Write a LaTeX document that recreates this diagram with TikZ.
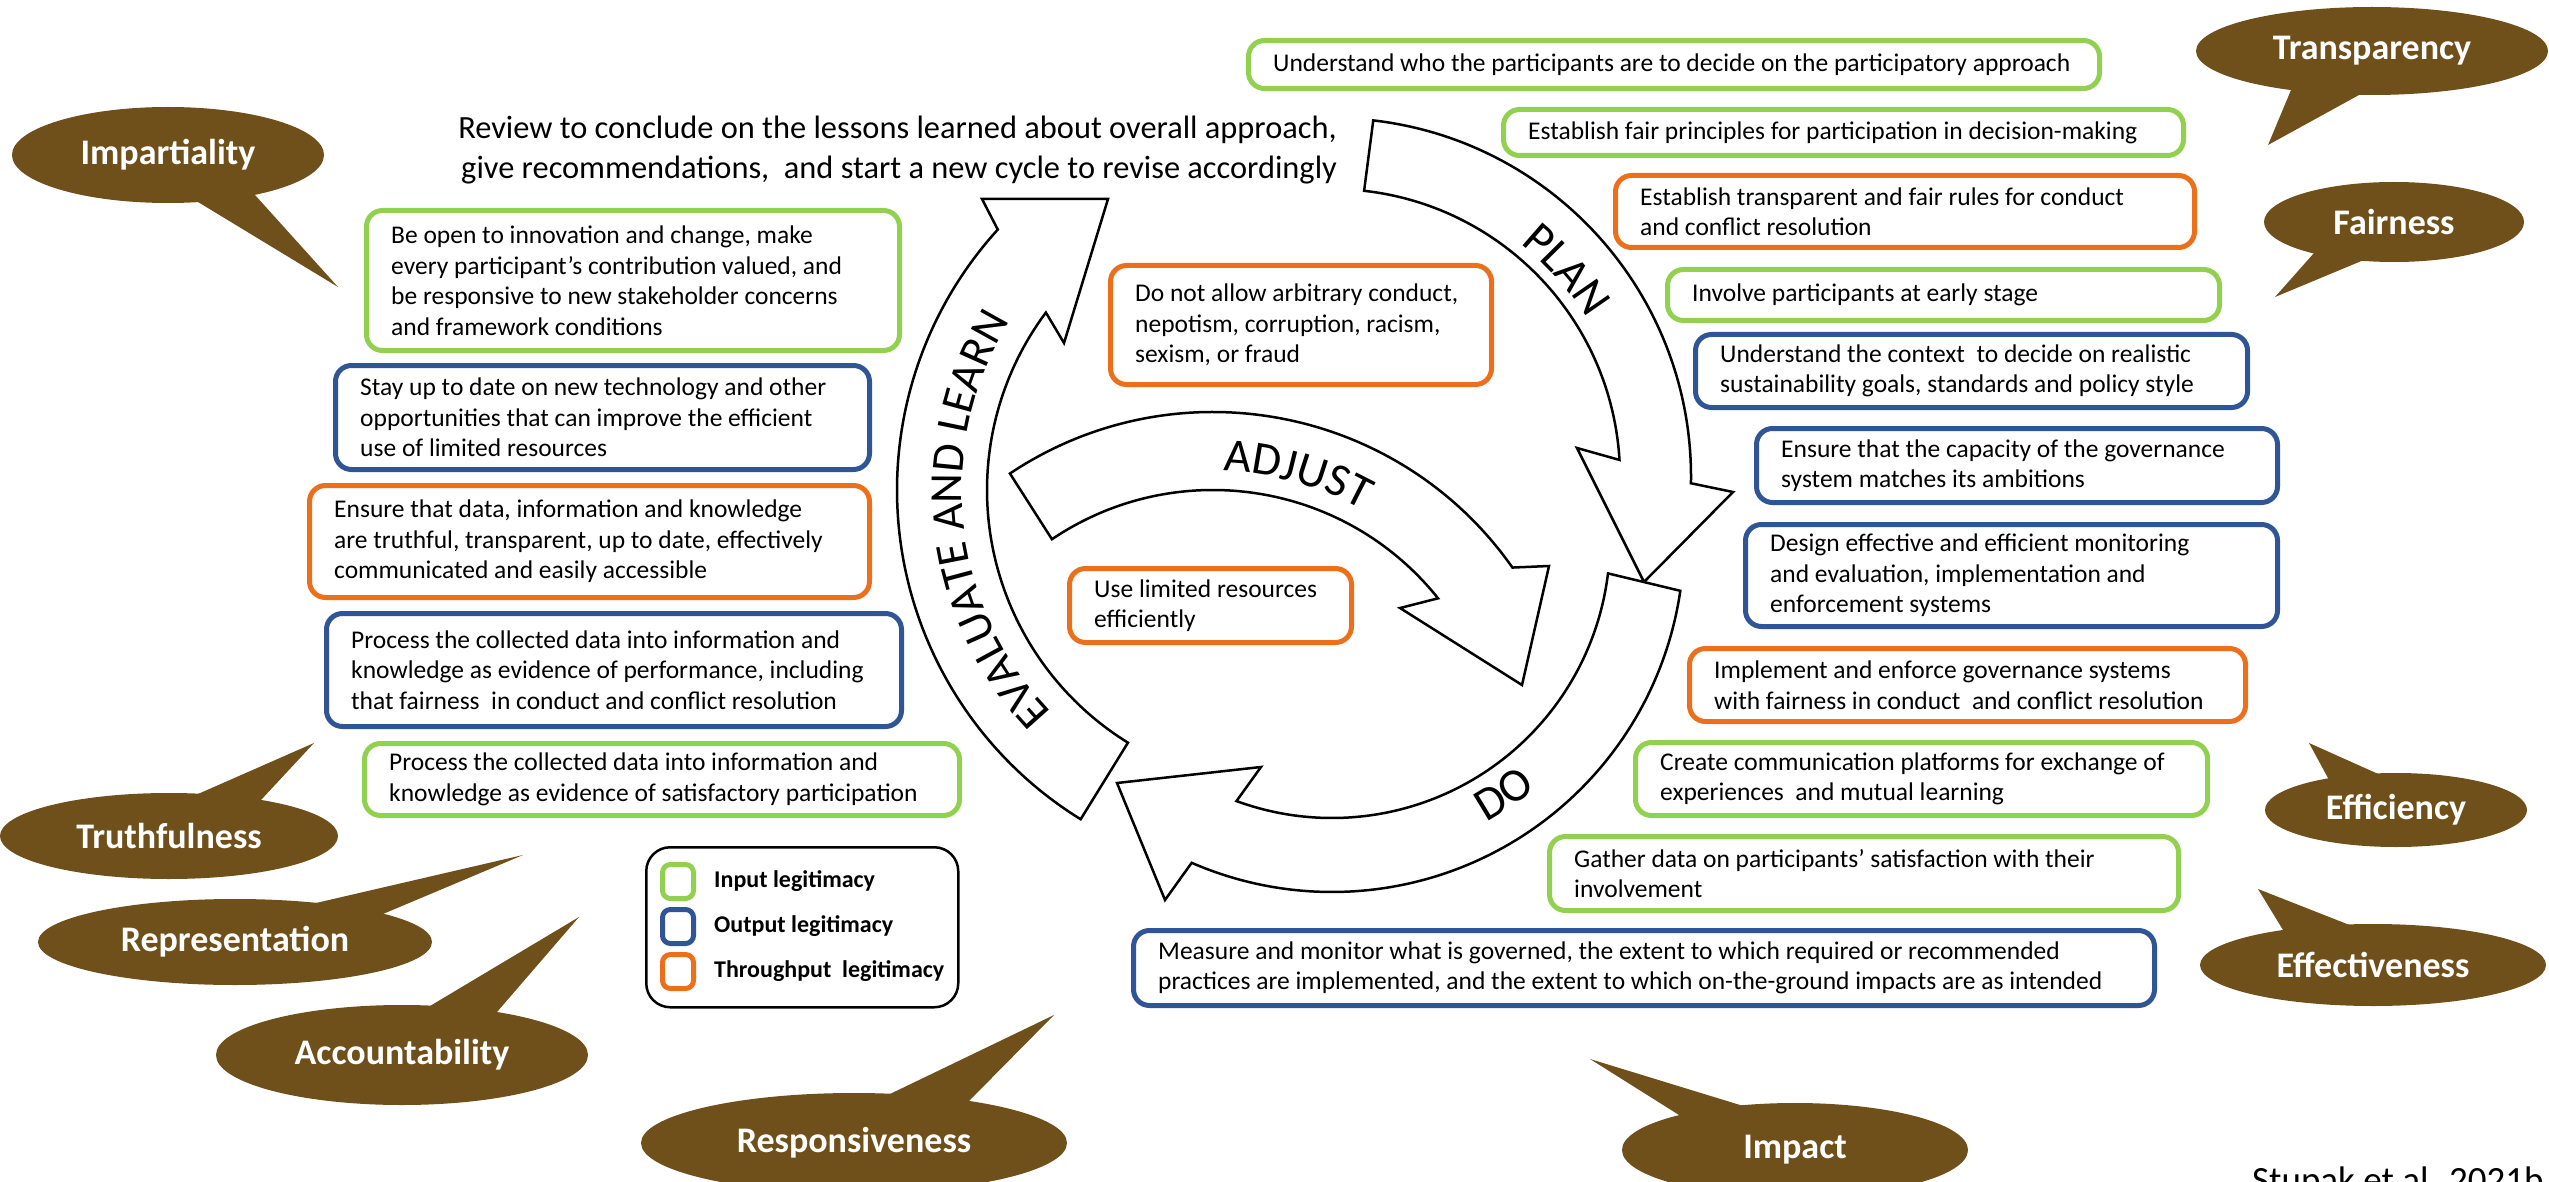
\documentclass[tikz,border=0pt]{standalone}
\usepackage{fontspec}
\setmainfont{Carlito}
\usetikzlibrary{calc,decorations.text,shapes.geometric}
\definecolor{ingreen}{RGB}{146,208,80}
\definecolor{outblue}{RGB}{47,85,151}
\definecolor{throrange}{RGB}{236,112,28}
\definecolor{bubbrown}{RGB}{112,80,26}
\newcommand\boxfont{\fontsize{25.5}{30.5}\selectfont}
\newcommand\bubfont{\fontsize{36}{40}\selectfont\bfseries}
\newcommand\arrfont{\fontsize{47}{47}\selectfont}
\newcommand\evfont{\fontsize{46}{46}\selectfont}
\newcommand\legfont{\fontsize{24}{28}\selectfont\bfseries}
\newcommand\headfont{\fontsize{32.4}{39.5}\selectfont}
\newcommand\govbox[7]{%
  \node[gbox, draw=#2, minimum width=#5pt, minimum height=#6pt] (#1) at (#3,#4) {};
  \node[gtext] (#1t) at ([xshift=27pt]#1.west) {#7};}
\newcommand\bubble[8]{%
  \fill[bubbrown] #7 -- ($#7!1.15!#5$) -- ($#7!1.15!#6$) -- cycle;
  \node[bub, minimum width=#3pt, minimum height=#4pt] (#1) at #2 {#8};}
\begin{document}
\begin{tikzpicture}[x=1pt, y=-1pt,
  gbox/.style={draw, line width=5pt, rounded corners=16pt, fill=white, anchor=north west, inner sep=0pt},
  gtext/.style={anchor=west, align=left, inner sep=0pt, font=\boxfont},
  bub/.style={ellipse, fill=bubbrown, inner sep=0pt, outer sep=0pt, text=white, font=\bubfont},
  cyc/.style={draw=black, fill=white, line width=2.5pt, line join=miter, miter limit=10},
  arrtext/.style={decorate, decoration={text along path, text align=center, text={|\arrfont|#1}}},
  evtext/.style={decorate, decoration={text along path, text align=center, text={|\evfont|#1}}},
  legsq/.style={line width=5pt, rounded corners=8pt, anchor=north west, minimum width=31pt, minimum height=34pt, inner sep=0pt},
  legtxt/.style={anchor=west, font=\legfont, inner sep=0pt}
]
\useasboundingbox (0,0) rectangle (2549,1182);
\clip (0,0) rectangle (2549,1182);

% ---- cycle arrows
\coordinate (pc) at (1332,477);
\coordinate (ec) at (1284,490);
\coordinate (ac) at (1213,778);
\coordinate (dc) at (1332,540);

\draw[cyc] ($(ec)+(121.7:387)$) arc[start angle=121.7, end angle=222.3, radius=387]
  -- (982,199) -- (1108,199) -- (1064,343)
  -- ($(ec)+(216.7:297)$) arc[start angle=216.7, end angle=121.7, radius=297] -- cycle;
\draw[cyc] ($(pc)+(-83.4:359)$) arc[start angle=-83.4, end angle=1, radius=359]
  -- (1733,492) -- (1644,582) -- (1577,448)
  -- ($(pc)+(-3.4:288)$) arc[start angle=-3.4, end angle=-83.6, radius=288] -- cycle;
\draw[cyc] ($(dc)+(8.3:352)$) arc[start angle=8.3, end angle=113.5, radius=352]
  -- (1165,900) -- (1117,783) -- (1261,767)
  -- ($(dc)+(110.1:278)$) arc[start angle=110.1, end angle=6.9, radius=278] -- cycle;
\draw[cyc] ($(ac)+(236.3:366)$) arc[start angle=236.3, end angle=324.9, radius=366]
  -- (1549,566) -- (1522,685) -- (1400,608)
  -- ($(ac)+(321.4:288)$) arc[start angle=321.4, end angle=236, radius=288] -- cycle;

\path[evtext=EVALUATE AND LEARN] ($(ec)+(114:322)$) arc[start angle=114, end angle=234, radius=322];
\path[arrtext=PLAN] ($(pc)+(-72:300)$) arc[start angle=-72, end angle=-11, radius=300];
\path[arrtext=ADJUST] ($(ac)+(240:307)$) arc[start angle=240, end angle=331, radius=307];
\path[arrtext=DO] ($(dc)+(86:322)$) arc[start angle=86, end angle=26, radius=322];

% ---- header
\node[anchor=east, align=right, font=\headfont, inner sep=0pt] (head) at (1337,150)
  {Review to conclude on the lessons learned about overall approach,\\give recommendations,\ \ and start a new cycle to revise accordingly};

% ---- boxes
\govbox{b1}{ingreen}{1246}{38}{851}{48}{Understand who the participants are to decide on the participatory approach}
\govbox{b2}{ingreen}{1501}{107}{680}{46}{Establish fair principles for participation in decision-making}
\govbox{b3}{throrange}{1613}{173}{579}{72}{Establish transparent and fair rules for conduct\\and conflict resolution}
\govbox{b4}{ingreen}{1665}{267}{552}{51}{Involve participants at early stage}
\govbox{b5}{outblue}{1693}{332}{552}{73}{Understand the context\ \ to decide on realistic\\sustainability goals, standards and policy style}
\govbox{b6}{outblue}{1754}{426}{521}{74}{Ensure that the capacity of the governance\\system matches its ambitions}
\govbox{b7}{outblue}{1743}{522}{532}{102}{Design effective and efficient monitoring\\and evaluation, implementation and\\enforcement systems}
\govbox{b8}{throrange}{1687}{646}{556}{73}{Implement and enforce governance systems\\with fairness in conduct\ \ and conflict resolution}
\govbox{b9}{ingreen}{1633}{740}{572}{73}{Create communication platforms for exchange of\\experiences\ \ and mutual learning}
\govbox{b10}{ingreen}{1547}{834}{629}{74}{Gather data on participants’ satisfaction with their\\involvement}
\govbox{b11}{outblue}{1131}{928}{1021}{75}{Measure and monitor what is governed, the extent to which required or recommended\\practices are implemented, and the extent to which on-the-ground impacts are as intended}
\govbox{l1}{ingreen}{364}{208}{533}{140}{Be open to innovation and change, make\\every participant’s contribution valued, and\\be responsive to new stakeholder concerns\\and framework conditions}
\govbox{l2}{outblue}{333}{363}{534}{104}{Stay up to date on new technology and other\\opportunities that can improve the efficient\\use of limited resources}
\govbox{l3}{throrange}{307}{483}{560}{112}{Ensure that data, information and knowledge\\are truthful, transparent, up to date, effectively\\communicated and easily accessible}
\govbox{l4}{outblue}{324}{611}{575}{113}{Process the collected data into information and\\knowledge as evidence of performance, including\\that fairness\ \ in conduct and conflict resolution}
\govbox{l5}{ingreen}{362}{741}{595}{72}{Process the collected data into information and\\knowledge as evidence of satisfactory participation}
\govbox{c1}{throrange}{1108}{263}{381}{119}{Do not allow arbitrary conduct,\\nepotism, corruption, racism,\\sexism, or fraud}
\govbox{c2}{throrange}{1067}{566}{282}{74}{Use limited resources\\efficiently}

% ---- legend
\node[draw, line width=2.5pt, rounded corners=24pt, anchor=north west, minimum width=312pt, minimum height=160pt, inner sep=0pt] (legend) at (645,846) {};
\node[legsq, draw=ingreen] (lgin) at (660,862) {};
\node[legsq, draw=outblue] (lgout) at (660,907) {};
\node[legsq, draw=throrange] (lgthr) at (660,952) {};
\node[legtxt] (lgint) at ([xshift=18pt]lgin.east) {Input legitimacy};
\node[legtxt] (lgoutt) at ([xshift=18pt]lgout.east) {Output legitimacy};
\node[legtxt] (lgthrt) at ([xshift=18pt]lgthr.east) {Throughput\ \ legitimacy};

% ---- bubbles
\bubble{imp}{(168,155)}{312}{96}{(198,202)}{(255,195)}{(338,287)}{Impartiality}
\bubble{tra}{(2372,51)}{352}{88}{(2291,90)}{(2359,95)}{(2268,145)}{Transparency}
\bubble{fai}{(2394,222)}{260}{80}{(2314,253)}{(2359,262)}{(2275,297)}{Fairness}
\bubble{eff}{(2396,810)}{262}{74}{(2328,778)}{(2376,773)}{(2309,743)}{Efficiency}
\bubble{efv}{(2373,965)}{346}{82}{(2283,930)}{(2347,924)}{(2258,889)}{Effectiveness}
\bubble{ipc}{(1795,1150)}{346}{94}{(1679,1115)}{(1740,1105)}{(1590,1059)}{Impact}
\bubble{res}{(854,1143)}{426}{100}{(890,1094)}{(969,1101)}{(1054,1015)}{Responsiveness}
\bubble{acc}{(402,1055)}{372}{100}{(430,1006)}{(497,1012)}{(579,917)}{Accountability}
\bubble{rep}{(235,942)}{394}{86}{(316,903)}{(383,914)}{(523,855)}{Representation}
\bubble{tru}{(169,836)}{338}{86}{(198,794)}{(261,800)}{(314,743)}{Truthfulness}

% ---- citation
\node[anchor=base west, font=\fontsize{37}{40}\selectfont, inner sep=0pt] (cite) at (2252,1192) {Stupak et al. 2021b};
\end{tikzpicture}
\end{document}
